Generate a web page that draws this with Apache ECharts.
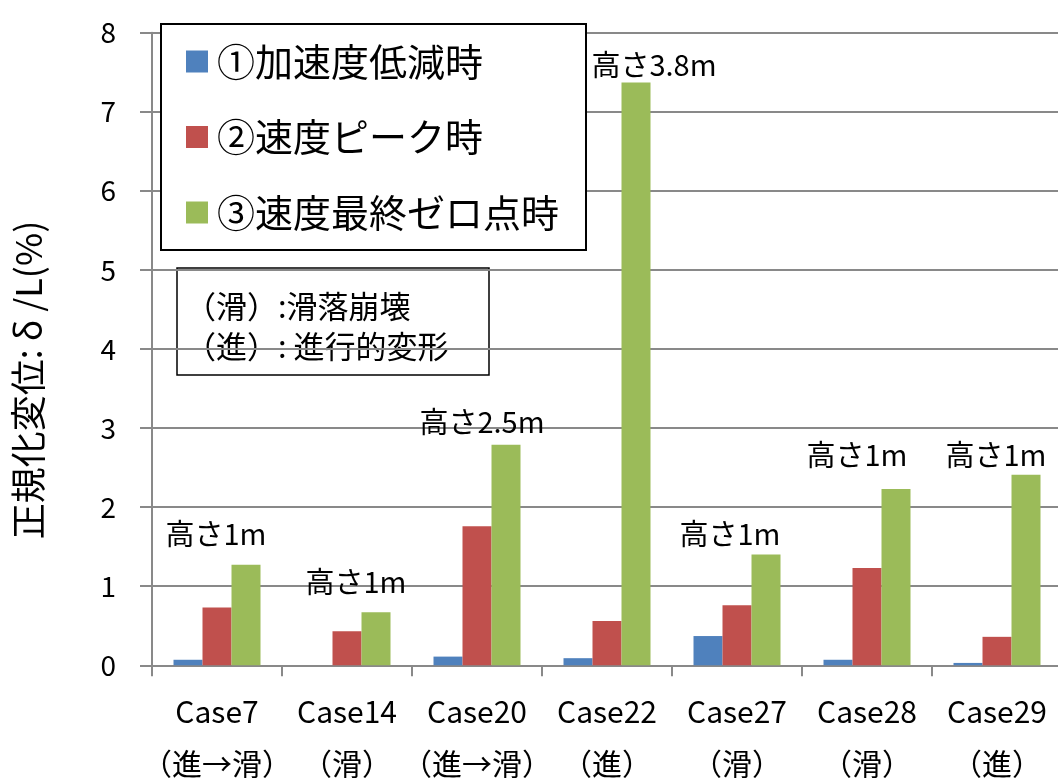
<!DOCTYPE html>
<html>
<head>
<meta charset="utf-8">
<script src="https://cdn.jsdelivr.net/npm/echarts@6/dist/echarts.min.js"></script>
<style>
  html, body { margin: 0; padding: 0; background: #fff; }
  #chart { width: 1058px; height: 781px; }
</style>
</head>
<body>
<div id="chart"></div>
<script>
// Test cases and their failure mode
const categories = ['Case7', 'Case14', 'Case20', 'Case22', 'Case27', 'Case28', 'Case29'];
const failureTypes = ['（進→滑）', '（滑）', '（進→滑）', '（進）', '（滑）', '（滑）', '（進）'];

// Normalized displacement δ/L (%) at three moments
const accelDrop = [0.07, 0, 0.11, 0.09, 0.37, 0.07, 0.03];      // ①加速度低減時
const velocityPeak = [0.73, 0.43, 1.76, 0.56, 0.76, 1.23, 0.36]; // ②速度ピーク時
const velocityZero = [1.27, 0.67, 2.79, 7.37, 1.40, 2.23, 2.41]; // ③速度最終ゼロ点時

// Slope height of each case
const slopeHeights = ['高さ1m', '高さ1m', '高さ2.5m', '高さ3.8m', '高さ1m', '高さ1m', '高さ1m'];

const seriesNames = ['①加速度低減時', '②速度ピーク時', '③速度最終ゼロ点時'];
const yTickLabels = ['0', '1', '2', '3', '4', '5', '6', '7', '8'];

const FONT = '"Noto Sans CJK JP", "Noto Sans", sans-serif';
const GRID_GRAY = '#898989';

// where each height note sits relative to the top of its green bar
const heightLabelOffsets = [[-30, -16], [-20, -16], [-24, -8], [18, -3], [-36, -6], [-39, -19], [-30, -5]];

const chart = echarts.init(document.getElementById('chart'));

const option = {
  animation: false,
  backgroundColor: '#fff',
  textStyle: { fontFamily: FONT },
  color: ['#4F81BD', '#C0504D', '#9BBB59'],
  grid: {
    left: 152, top: 32.7, right: -4, bottom: 115.7,
    containLabel: false,
    outerBoundsMode: 'none'
  },
  legend: {
    orient: 'vertical',
    left: 161,
    top: 24,
    padding: [18.5, 27, 18.5, 25],
    itemGap: 37.5,
    itemWidth: 22,
    itemHeight: 22,
    icon: 'rect',
    backgroundColor: '#fff',
    borderColor: '#000',
    borderWidth: 2,
    borderRadius: 0,
    data: seriesNames,
    textStyle: { fontSize: 38, color: '#000', fontFamily: FONT, padding: [0, 0, 0, 4] }
  },
  xAxis: {
    type: 'category',
    data: categories.map((c, i) => c + '\n' + failureTypes[i]),
    axisLine: { lineStyle: { color: GRID_GRAY, width: 2 } },
    axisTick: { show: true, length: 11, interval: 0, lineStyle: { color: GRID_GRAY, width: 2 } },
    axisLabel: {
      interval: 0,
      margin: 20,
      color: '#000',
      fontSize: 30,
      lineHeight: 52,
      fontFamily: FONT
    }
  },
  yAxis: {
    type: 'value',
    min: 0,
    max: 8,
    interval: 1,
    axisLine: { show: true, lineStyle: { color: GRID_GRAY, width: 2 } },
    axisTick: { show: true, length: 12, lineStyle: { color: GRID_GRAY, width: 2 } },
    splitLine: { show: true, lineStyle: { color: GRID_GRAY, width: 2 } },
    axisLabel: {
      margin: 36,
      color: '#000',
      fontSize: 28,
      fontFamily: FONT,
      formatter: v => yTickLabels[Math.round(v)]
    }
  },
  series: [
    { name: seriesNames[0], type: 'bar', data: accelDrop, barWidth: 29, barGap: '0%' },
    { name: seriesNames[1], type: 'bar', data: velocityPeak, barWidth: 29, barGap: '0%' },
    {
      name: seriesNames[2], type: 'bar', barWidth: 29, barGap: '0%',
      data: velocityZero.map((v, i) => ({
        value: v,
        label: {
          show: true,
          position: 'top',
          distance: 0,
          offset: heightLabelOffsets[i],
          formatter: slopeHeights[i],
          fontSize: 29,
          color: '#000',
          fontFamily: FONT
        }
      }))
    }
  ],
  graphic: [
    {
      type: 'text',
      z: 100,
      x: 28,
      y: 380,
      rotation: Math.PI / 2,
      style: {
        text: '正規化変位: δ /L(%)',
        font: '36px ' + FONT,
        fill: '#000',
        align: 'center',
        verticalAlign: 'middle'
      }
    },
    {
      type: 'group',
      z: 100,
      x: 177,
      y: 268,
      children: [
        {
          type: 'rect',
          shape: { x: 0, y: 0, width: 312, height: 107 },
          style: { fill: '#fff', stroke: '#000', lineWidth: 1.5 }
        },
        {
          type: 'text',
          x: 8, y: 38,
          style: { text: '（滑）:滑落崩壊', font: '31px ' + FONT, fill: '#000', verticalAlign: 'middle' }
        },
        {
          type: 'text',
          x: 8, y: 78,
          style: { text: '（進）: 進行的変形', font: '31px ' + FONT, fill: '#000', verticalAlign: 'middle' }
        }
      ]
    }
  ]
};

chart.setOption(option);
</script>
</body>
</html>
